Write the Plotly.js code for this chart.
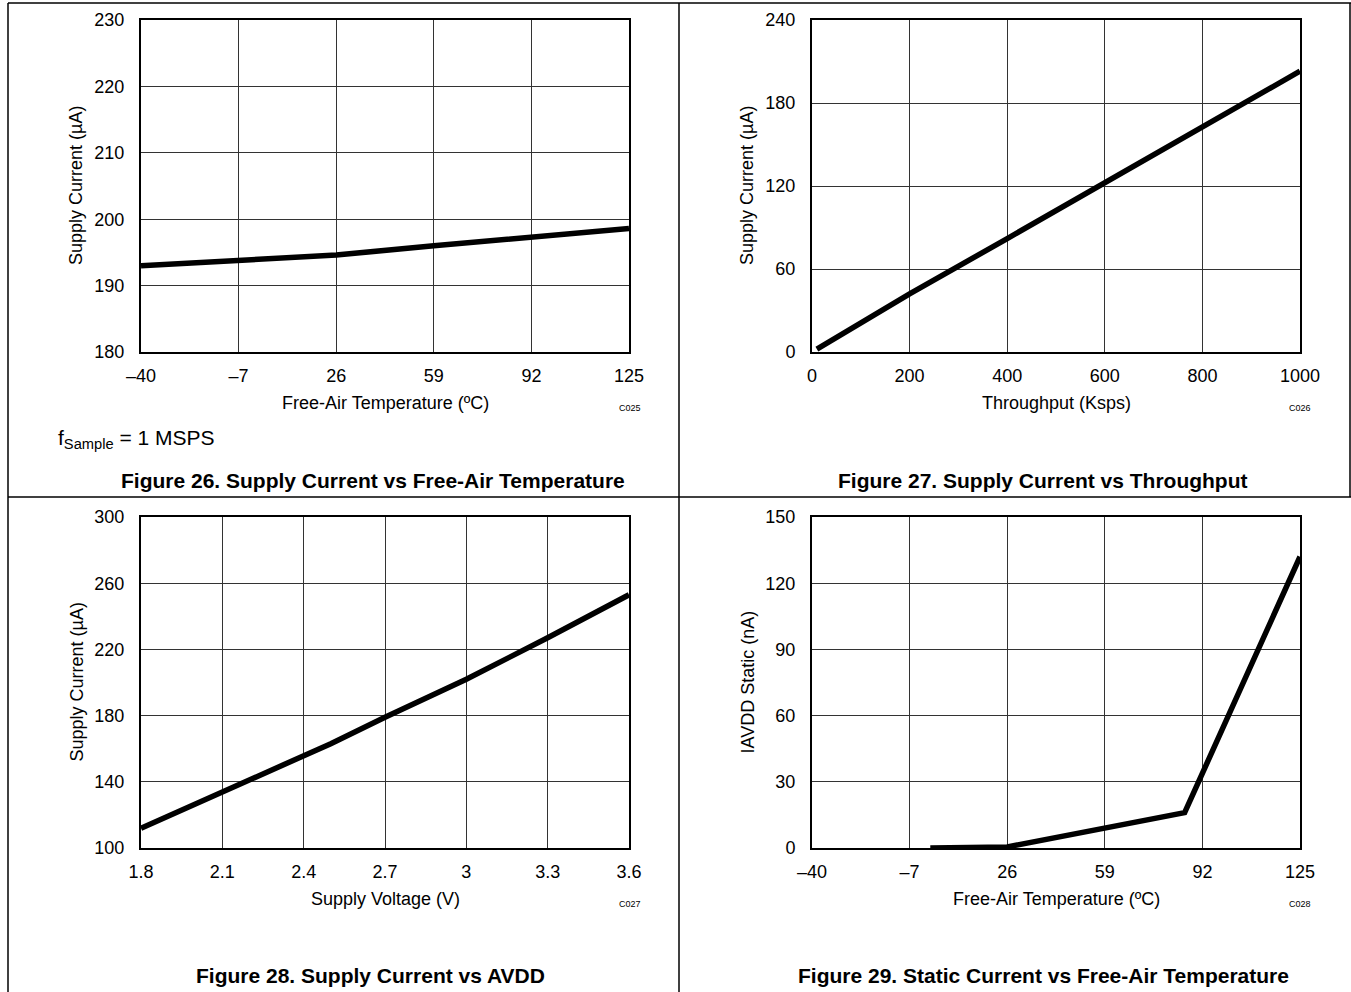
<!DOCTYPE html>
<html>
<head>
<meta charset="utf-8">
<script src="https://cdn.plot.ly/plotly-3.0.1.min.js"></script>
<style>
html,body{margin:0;padding:0;background:#fff;}
#chart{width:1351px;height:992px;}
</style>
</head>
<body>
<div id="chart"></div>
<script>
// ---- Data ----
// Figure 26: Supply Current vs Free-Air Temperature
var fig26Temp = [-40, -7, 26, 59, 92, 125];
var fig26Current = [193.0, 193.8, 194.6, 196.0, 197.3, 198.6];
// Figure 27: Supply Current vs Throughput
var fig27Throughput = [10, 200, 400, 600, 800, 1000];
var fig27Current = [2, 42, 82, 122, 162, 203];
// Figure 28: Supply Current vs AVDD
var fig28Voltage = [1.8, 2.1, 2.4, 2.5, 2.7, 3.0, 3.3, 3.6];
var fig28Current = [112, 134, 156, 163, 179, 202, 227, 253];
// Figure 29: Static current vs Free-Air Temperature
var fig29Temp = [0, 26, 86, 125];
var fig29Static = [0, 0.5, 16, 132];

// tick labels
var tempTicks = [-40, -7, 26, 59, 92, 125];
var tempTickText = ['\u201340', '\u20137', '26', '59', '92', '125'];
var fig26YTicks = [180, 190, 200, 210, 220, 230];
var fig27XTicks = [0, 200, 400, 600, 800, 1000];
var fig27YTicks = [0, 60, 120, 180, 240];
var fig28XTicks = [1.8, 2.1, 2.4, 2.7, 3.0, 3.3, 3.6];
var fig28XTickText = ['1.8', '2.1', '2.4', '2.7', '3', '3.3', '3.6'];
var fig28YTicks = [100, 140, 180, 220, 260, 300];
var fig29YTicks = [0, 30, 60, 90, 120, 150];

var captions = [
  'Figure 26. Supply Current vs Free-Air Temperature',
  'Figure 27. Supply Current vs Throughput',
  'Figure 28. Supply Current vs AVDD',
  'Figure 29. Static Current vs Free-Air Temperature'
];
var xTitles = ['Free-Air Temperature (\u00BAC)', 'Throughput (Ksps)', 'Supply Voltage (V)', 'Free-Air Temperature (\u00BAC)'];
var yTitles = ['Supply Current (\u00B5A)', 'Supply Current (\u00B5A)', 'Supply Current (\u00B5A)', 'IAVDD Static (nA)'];
var codes = ['C025', 'C026', 'C027', 'C028'];

// ---- Layout helpers ----
var W = 1351, H = 992;
function px(x){ return x / W; }
function py(y){ return 1 - y / H; }

var FONT = 'Liberation Sans, Arial, sans-serif';
var lineStyle = {color: '#000', width: 5.5};

var traces = [
  {x: fig26Temp, y: fig26Current, xaxis: 'x', yaxis: 'y', mode: 'lines', line: lineStyle},
  {x: fig27Throughput, y: fig27Current, xaxis: 'x2', yaxis: 'y2', mode: 'lines', line: lineStyle},
  {x: fig28Voltage, y: fig28Current, xaxis: 'x3', yaxis: 'y3', mode: 'lines', line: lineStyle},
  {x: fig29Temp, y: fig29Static, xaxis: 'x4', yaxis: 'y4', mode: 'lines', line: lineStyle}
];
traces.forEach(function(t){ t.showlegend = false; t.hoverinfo = 'skip'; });

// plot areas in pixels
var L1 = 141, R1 = 629, L2 = 812, R2 = 1300;
var T1 = 20, B1 = 352, T2 = 517, B2 = 848;

function xa(domL, domR, anchor, range, tv, tt){
  return {
    domain: [px(domL), px(domR)], anchor: anchor, range: range,
    tickvals: tv, ticktext: tt, tickmode: 'array',
    showline: true, mirror: true, linecolor: '#000', linewidth: 2,
    showgrid: true, gridcolor: '#333', gridwidth: 1,
    zeroline: false, ticks: '', ticklabelstandoff: 6,
    tickfont: {family: FONT, size: 18, color: '#000'},
    fixedrange: true
  };
}
function ya(domT, domB, anchor, range, tv){
  return {
    domain: [py(domB), py(domT)], anchor: anchor, range: range,
    tickvals: tv, tickmode: 'array',
    showline: true, mirror: true, linecolor: '#000', linewidth: 2,
    showgrid: true, gridcolor: '#333', gridwidth: 1,
    zeroline: false, ticks: '', ticklabelstandoff: 11,
    tickfont: {family: FONT, size: 18, color: '#000'},
    fixedrange: true
  };
}

var layout = {
  width: W, height: H,
  margin: {l: 0, r: 0, t: 0, b: 0},
  paper_bgcolor: '#fff', plot_bgcolor: '#fff',
  showlegend: false,
  xaxis: xa(L1, R1, 'y', [-40, 125], tempTicks, tempTickText),
  yaxis: ya(T1, B1, 'x', [180, 230], fig26YTicks),
  xaxis2: xa(L2, R2, 'y2', [0, 1000], fig27XTicks, fig27XTicks.map(String)),
  yaxis2: ya(T1, B1, 'x2', [0, 240], fig27YTicks),
  xaxis3: xa(L1, R1, 'y3', [1.8, 3.6], fig28XTicks, fig28XTickText),
  yaxis3: ya(T2, B2, 'x3', [100, 300], fig28YTicks),
  xaxis4: xa(L2, R2, 'y4', [-40, 125], tempTicks, tempTickText),
  yaxis4: ya(T2, B2, 'x4', [0, 150], fig29YTicks),
  shapes: [],
  annotations: []
};

// frame lines
var frame = {type: 'line', xref: 'paper', yref: 'paper', line: {color: '#000', width: 1.5}};
function addLine(x0, y0, x1, y1){
  var s = JSON.parse(JSON.stringify(frame));
  s.x0 = px(x0); s.y0 = py(y0); s.x1 = px(x1); s.y1 = py(y1);
  layout.shapes.push(s);
}
addLine(8, 3, W, 3);
addLine(8, 3, 8, H);
addLine(679, 3, 679, H);
addLine(8, 497, W, 497);
addLine(1350, 3, 1350, 497);

function ann(text, x, y, opts){
  var a = {text: text, x: px(x), y: py(y), xref: 'paper', yref: 'paper', showarrow: false,
           font: {family: FONT, size: 15, color: '#000'}, xanchor: 'center', yanchor: 'middle'};
  for (var k in opts){ a[k] = opts[k]; }
  layout.annotations.push(a);
}

var panels = [
  {L: L1, R: R1, T: T1, B: B1, capX: 373, capY: 480, codeX: 630},
  {L: L2, R: R2, T: T1, B: B1, capX: 1043, capY: 480, codeX: 1300},
  {L: L1, R: R1, T: T2, B: B2, capX: 371, capY: 975, codeX: 630},
  {L: L2, R: R2, T: T2, B: B2, capX: 1043, capY: 975, codeX: 1300}
];
panels.forEach(function(p, i){
  ann(xTitles[i], (p.L + p.R) / 2, p.B + 51, {font: {family: FONT, size: 18, color: '#000'}});
  ann(yTitles[i], p.L - 65, (p.T + p.B) / 2, {textangle: -90, font: {family: FONT, size: 18, color: '#000'}});
  ann(codes[i], p.codeX, p.B + 56, {font: {family: FONT, size: 9, color: '#000'}});
  ann('<b>' + captions[i] + '</b>', p.capX, p.capY, {font: {family: FONT, size: 21, color: '#000'}});
});
ann('f<sub>Sample</sub> = 1 MSPS', 56, 439, {xanchor: 'left', font: {family: FONT, size: 21, color: '#000'}});

Plotly.newPlot('chart', traces, layout, {displayModeBar: false, staticPlot: true});
</script>
</body>
</html>
